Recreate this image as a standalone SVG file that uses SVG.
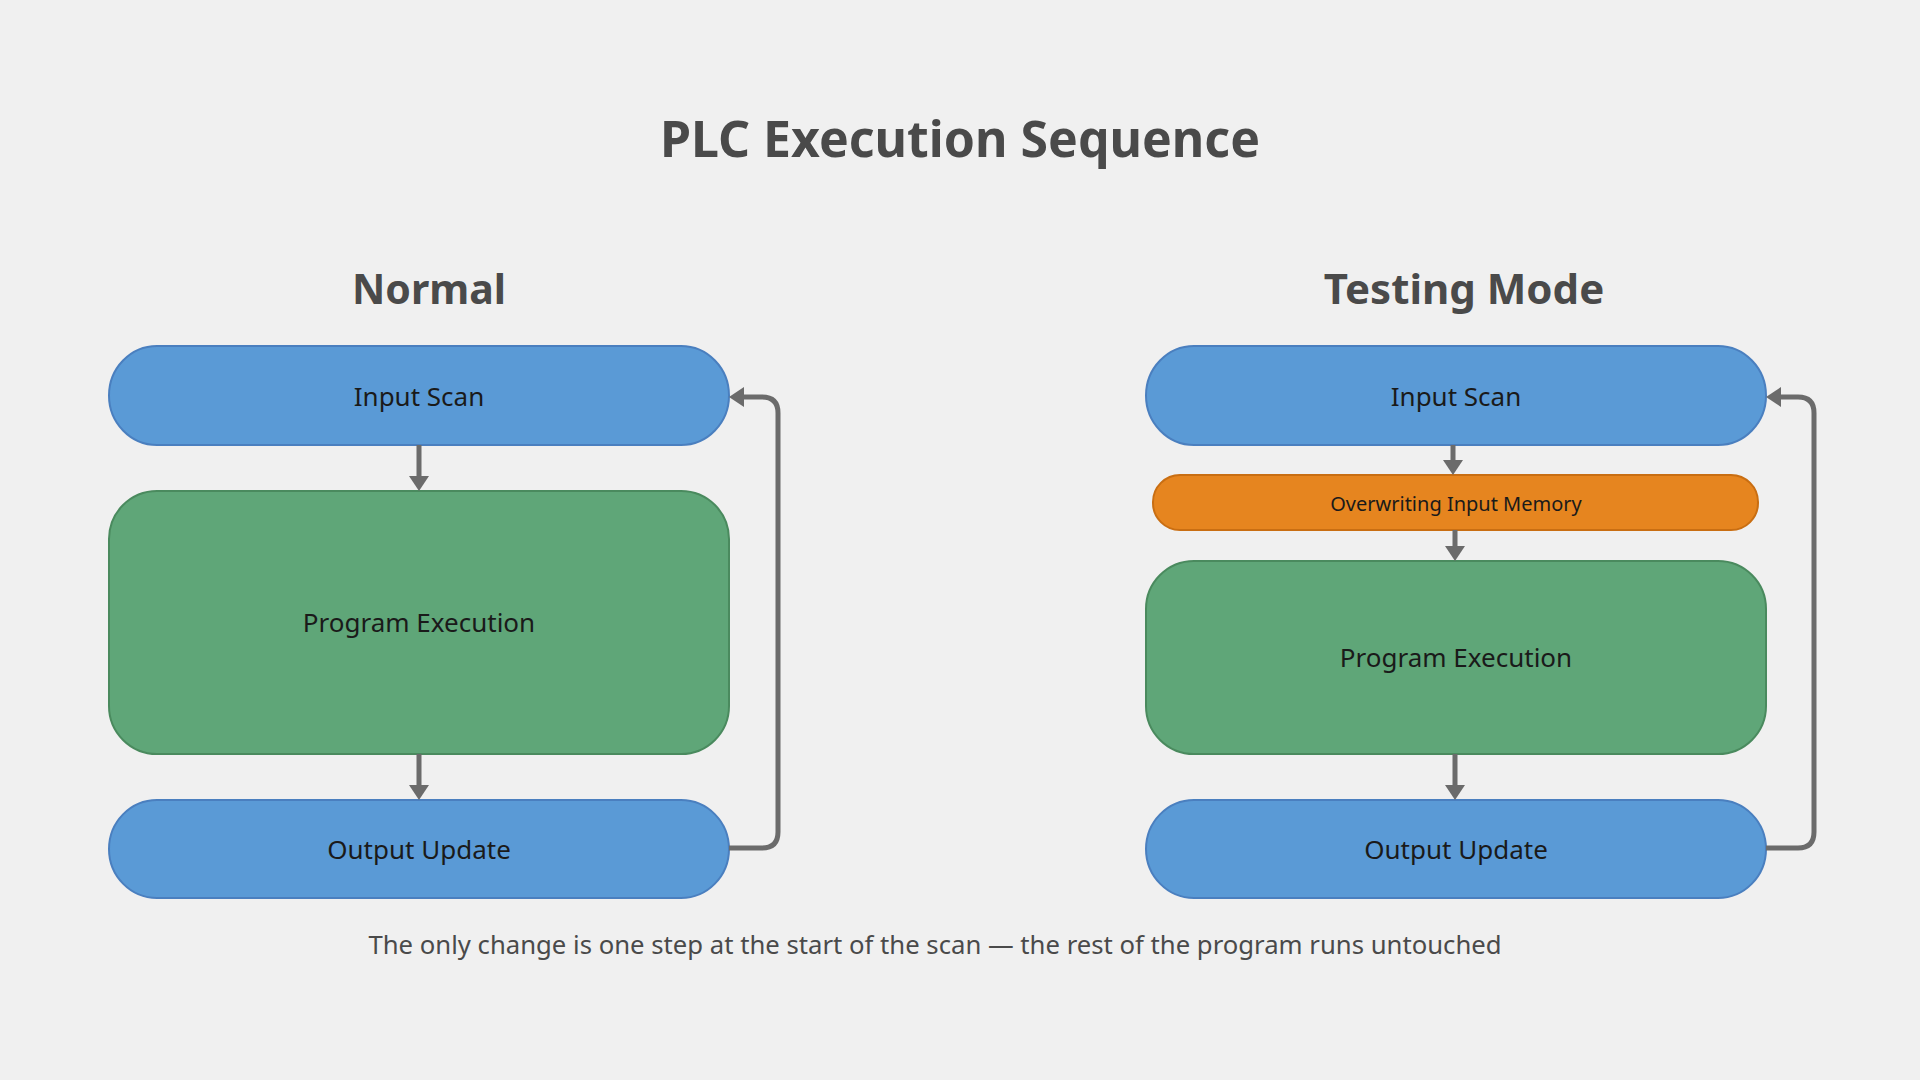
<svg xmlns="http://www.w3.org/2000/svg" width="1920" height="1080" viewBox="0 0 1920 1080">
  <style>
    .title { font-family: "Noto Sans", "Open Sans", sans-serif; font-weight: 700; fill: #4a4a4a; text-anchor: middle; }
    .lbl { font-family: "Noto Sans", "Open Sans", sans-serif; font-size: 26px; fill: #1a1a1a; text-anchor: middle; dominant-baseline: central; }
    .small { font-size: 20px; }
    .blue { fill: #5a9ad6; stroke: #4a7fbf; stroke-width: 2; }
    .green { fill: #5fa678; stroke: #4a8a5e; stroke-width: 2; }
    .orange { fill: #e6851f; stroke: #c96e12; stroke-width: 2; }
    .conn { fill: none; stroke: #6b6b6b; stroke-width: 5; }
    .foot { font-family: "Noto Sans", "Open Sans", sans-serif; font-size: 25.7px; fill: #4a4a4a; text-anchor: middle; }
  </style>
  <defs>
    <marker id="arr" markerWidth="4" markerHeight="4" refX="0" refY="2" orient="auto" markerUnits="strokeWidth" viewBox="0 0 4 4" overflow="visible">
      <path d="M-0.2,0 L2.8,2 L-0.2,4 Z" fill="#6b6b6b"/>
    </marker>
  </defs>
  <rect x="0" y="0" width="1920" height="1080" fill="#f0f0f0"/>

  <text class="title" x="960" y="157" font-size="50">PLC Execution Sequence</text>
  <text class="title" x="429" y="304" font-size="41">Normal</text>
  <text class="title" x="1464" y="304" font-size="42">Testing Mode</text>

  <g id="n-input-left">
    <rect class="blue" x="109" y="346" width="620" height="99" rx="48" ry="50"/>
    <text class="lbl" x="419" y="396">Input Scan</text>
  </g>
  <g id="n-program-left">
    <rect class="green" x="109" y="491" width="620" height="263" rx="48" ry="48"/>
    <text class="lbl" x="419" y="622">Program Execution</text>
  </g>
  <g id="n-output-left">
    <rect class="blue" x="109" y="800" width="620" height="98" rx="48" ry="49"/>
    <text class="lbl" x="419" y="849">Output Update</text>
  </g>

  <g id="n-input-right">
    <rect class="blue" x="1146" y="346" width="620" height="99" rx="48" ry="50"/>
    <text class="lbl" x="1456" y="396">Input Scan</text>
  </g>
  <g id="n-overwrite-right">
    <rect class="orange" x="1153" y="475" width="605" height="55" rx="27" ry="27"/>
    <text class="lbl small" x="1456" y="503">Overwriting Input Memory</text>
  </g>
  <g id="n-program-right">
    <rect class="green" x="1146" y="561" width="620" height="193" rx="48" ry="48"/>
    <text class="lbl" x="1456" y="657">Program Execution</text>
  </g>
  <g id="n-output-right">
    <rect class="blue" x="1146" y="800" width="620" height="98" rx="48" ry="49"/>
    <text class="lbl" x="1456" y="849">Output Update</text>
  </g>

  <g id="connectors">
    <path class="conn" d="M419,445 L419,477" marker-end="url(#arr)"/>
    <path class="conn" d="M419,754 L419,786" marker-end="url(#arr)"/>
    <path class="conn" d="M729,848 L762,848 Q778,848 778,832 L778,413 Q778,397 762,397 L743,397" marker-end="url(#arr)"/>

    <path class="conn" d="M1453,445 L1453,461" marker-end="url(#arr)"/>
    <path class="conn" d="M1455,530 L1455,547" marker-end="url(#arr)"/>
    <path class="conn" d="M1455,754 L1455,786" marker-end="url(#arr)"/>
    <path class="conn" d="M1766,848 L1798,848 Q1814,848 1814,832 L1814,413 Q1814,397 1798,397 L1780,397" marker-end="url(#arr)"/>
  </g>

  <text class="foot" x="935" y="954">The only change is one step at the start of the scan — the rest of the program runs untouched</text>
</svg>
